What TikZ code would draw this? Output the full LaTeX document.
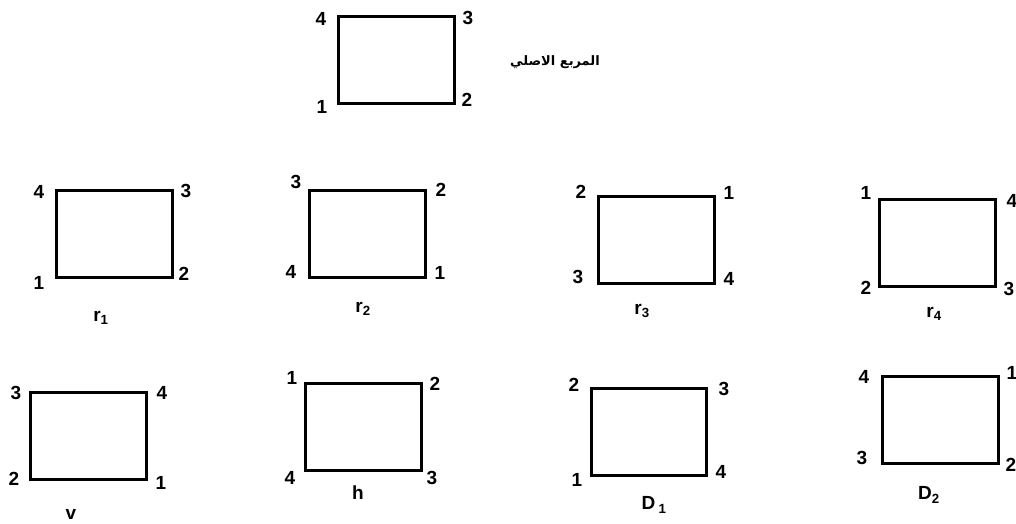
\documentclass[tikz,border=0pt]{standalone}
\usepackage{fontspec}
\setmainfont{Liberation Sans}
\newfontfamily\arabicfont[Script=Arabic]{DejaVu Sans}
\TeXXeTstate=1
\begin{document}
\begin{tikzpicture}[x=1pt,y=-1pt,
  sq/.style={draw=black,line width=3pt,minimum width=116pt,minimum height=87pt,inner sep=0pt,outer sep=0pt},
  num/.style={inner sep=0pt,font=\fontsize{19}{22}\selectfont\bfseries},
  lab/.style={inner sep=0pt,font=\fontsize{19}{22}\selectfont\bfseries}]
\useasboundingbox (0,0) rectangle (1016,523);
% original
\node[sq] (s0) at (396,59.5) {};
\node[num] (s0a) at (321,19) {4};
\node[num] (s0b) at (468,17.5) {3};
\node[num] (s0c) at (322,107) {1};
\node[num] (s0d) at (467,100) {2};
\node[inner sep=0pt] (title) at (555,62) {\arabicfont\bfseries\fontsize{13}{15}\selectfont\beginR المربع الاصلي\endR};
% r1
\node[sq] (r1) at (114,234) {};
\node[num] (r1a) at (39,192) {4};
\node[num] (r1b) at (186,191) {3};
\node[num] (r1c) at (39,283) {1};
\node[num] (r1d) at (184,274) {2};
\node[lab] (r1l) at (101,318) {r\textsubscript{1}};
% r2
\node[sq] (r2) at (367,234) {};
\node[num] (r2a) at (296,182) {3};
\node[num] (r2b) at (441,190) {2};
\node[num] (r2c) at (291,272) {4};
\node[num] (r2d) at (440,273) {1};
\node[lab] (r2l) at (363,309) {r\textsubscript{2}};
% r3
\node[sq] (r3) at (656,239.5) {};
\node[num] (r3a) at (581,192) {2};
\node[num] (r3b) at (729,193) {1};
\node[num] (r3c) at (578,277) {3};
\node[num] (r3d) at (729,279) {4};
\node[lab] (r3l) at (642,311) {r\textsubscript{3}};
% r4
\node[sq] (r4) at (937,242.5) {};
\node[num] (r4a) at (866,193) {1};
\node[num] (r4b) at (1012,201) {4};
\node[num] (r4c) at (866,288) {2};
\node[num] (r4d) at (1009,289) {3};
\node[lab] (r4l) at (934,314) {r\textsubscript{4}};
% v
\node[sq] (v) at (88.5,436) {};
\node[num] (va) at (16,393) {3};
\node[num] (vb) at (162,393) {4};
\node[num] (vc) at (14,479) {2};
\node[num] (vd) at (161,483) {1};
\node[lab] (vl) at (71,514) {v};
% h
\node[sq] (h) at (363.5,426.5) {};
\node[num] (ha) at (292,378) {1};
\node[num] (hb) at (435,384) {2};
\node[num] (hc) at (290,478) {4};
\node[num] (hd) at (432,478) {3};
\node[lab] (hl) at (358,493) {h};
% D1
\node[sq,minimum width=115pt] (d1) at (648.5,431.5) {};
\node[num] (d1a) at (574,385) {2};
\node[num] (d1b) at (724,389) {3};
\node[num] (d1c) at (577,480) {1};
\node[num] (d1d) at (721,472) {4};
\node[lab] (d1l) at (654,505) {D\,\textsubscript{1}};
% D2
\node[sq] (d2) at (940,419.5) {};
\node[num] (d2a) at (864,377) {4};
\node[num] (d2b) at (1012,373) {1};
\node[num] (d2c) at (862,458) {3};
\node[num] (d2d) at (1011,465) {2};
\node[lab] (d2l) at (929,495) {D\textsubscript{2}};
\end{tikzpicture}
\end{document}
